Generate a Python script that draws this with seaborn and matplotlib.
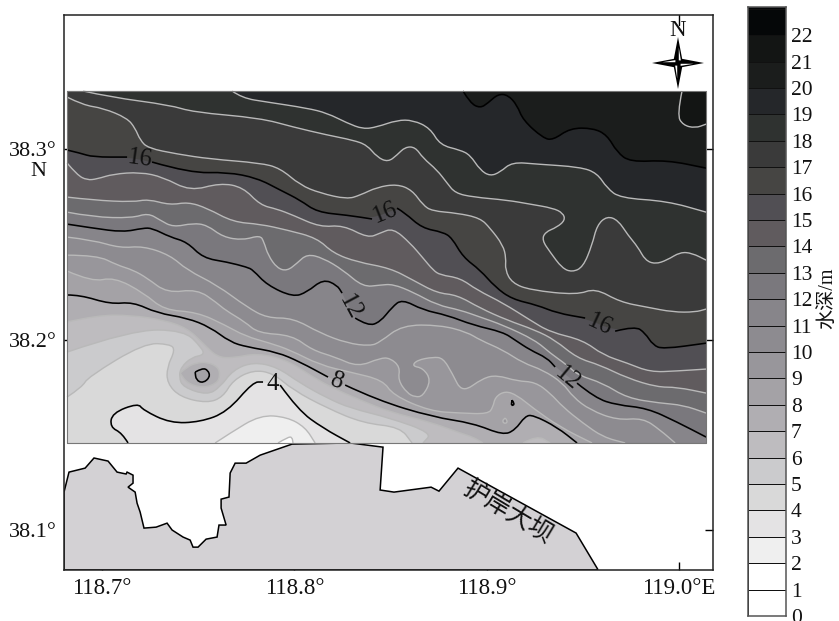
import numpy as np
import pandas as pd
import matplotlib
matplotlib.use('Agg')
import matplotlib.pyplot as plt
from matplotlib.colors import ListedColormap
from matplotlib.path import Path
from matplotlib.patches import PathPatch
import seaborn as sns

# Depth bands, colour of band i is for i..i+1 m
band_depths = list(range(23))
band_colors = ['#ffffff', '#ffffff', '#efefef', '#e4e3e4', '#d9d9d9', '#cbcbcd', '#bebcbf', '#b0aeb2',
               '#a4a2a6', '#98969b', '#8d8b90', '#87858a', '#7a787d', '#6c6b6e', '#605b5e', '#514f54',
               '#464543', '#3a3a3a', '#2f3230', '#25272a', '#1b1d1c', '#131514', '#050708']

map_west, map_east = 118.6818, 119.0141
map_south, map_north = 38.1457, 38.3305

# Isobaths (lon, lat)
lon_21 = [119.0016, 118.999, 119.0021, 119.0084, 119.0141]
lat_21 = [38.3305, 38.3179, 38.3126, 38.3110, 38.3131]

lon_20 = [118.8877, 118.8914, 118.8966, 118.9007, 118.9059, 118.9111, 118.9158, 118.9189, 118.9293, 118.9345,
          118.9434, 118.9553, 118.9626, 118.9678, 118.9746, 118.9938, 119.0141]
lat_20 = [38.3305, 38.3242, 38.3215, 38.3242, 38.3289, 38.3284, 38.3231, 38.3152, 38.3058, 38.3047,
          38.3110, 38.3110, 38.3074, 38.2984, 38.2932, 38.2942, 38.2900]

lon_19 = [118.7676, 118.7728, 118.7858, 118.8066, 118.817, 118.8274, 118.8357, 118.843, 118.8534, 118.8617,
          118.8706, 118.8758, 118.8862, 118.8914, 118.8966, 118.9018, 118.907, 118.9132, 118.9262, 118.9486,
          118.9574, 118.9626, 118.9694, 118.9938, 119.0141]
lat_19 = [38.3305, 38.3268, 38.3247, 38.3215, 38.3189, 38.3137, 38.3105, 38.3116, 38.3152, 38.3152,
          38.3110, 38.3021, 38.2995, 38.2969, 38.2890, 38.2858, 38.2879, 38.2932, 38.2921, 38.2906,
          38.2874, 38.2795, 38.2743, 38.2727, 38.2669]

lon_18 = [118.6901, 118.7042, 118.7354, 118.7473, 118.7822, 118.7993, 118.817, 118.8305, 118.8378, 118.843,
          118.8487, 118.8534, 118.8576, 118.8628, 118.8669, 118.8742, 118.8794, 118.8836, 118.8929, 118.9106,
          118.9226, 118.9345, 118.9397, 118.9408, 118.9366, 118.9304, 118.9288, 118.933, 118.9392, 118.9444,
          118.9501, 118.9548, 118.9574, 118.9626, 118.9683, 118.9735, 118.9787, 118.9824, 118.9876, 118.9938,
          119.0006, 119.0068, 119.0141]
lat_18 = [38.3305, 38.3273, 38.3231, 38.3194, 38.3163, 38.3116, 38.3074, 38.3047, 38.3021, 38.2958,
          38.2932, 38.2969, 38.3011, 38.3011, 38.2953, 38.2890, 38.2822, 38.2769, 38.2748, 38.2732,
          38.2711, 38.2690, 38.2664, 38.2627, 38.2590, 38.2564, 38.2522, 38.2459, 38.2375, 38.2354,
          38.2380, 38.2496, 38.2601, 38.2648, 38.2627, 38.2548, 38.2485, 38.2417, 38.2396, 38.2417,
          38.2459, 38.2454, 38.2417]

lon_17 = [118.6818, 118.6901, 118.7005, 118.713, 118.7172, 118.7198, 118.7239, 118.739, 118.7562, 118.7822,
          118.7926, 118.803, 118.8134, 118.8274, 118.8342, 118.843, 118.8534, 118.8612, 118.8669, 118.8716,
          118.8846, 118.8966, 118.9018, 118.9085, 118.9101, 118.9096, 118.9132, 118.9226, 118.947, 118.9564,
          118.9694, 118.9834, 118.9969, 119.0084, 119.0141]
lat_17 = [38.3273, 38.3231, 38.3215, 38.3163, 38.3110, 38.3047, 38.3005, 38.2974, 38.2948, 38.2927,
          38.2900, 38.2811, 38.2769, 38.2737, 38.2758, 38.2800, 38.2816, 38.2785, 38.2706, 38.2675,
          38.2664, 38.2638, 38.2585, 38.2496, 38.2428, 38.2365, 38.2297, 38.2260, 38.2234, 38.2270,
          38.2197, 38.2170, 38.2144, 38.2144, 38.2160]

lon_16 = [118.6818, 118.6886, 118.6953, 118.713, 118.726, 118.7458, 118.765, 118.7806, 118.7926, 118.803,
          118.8118, 118.8274, 118.8404, 118.8534, 118.8576, 118.8664, 118.8773, 118.882, 118.8877, 118.8966,
          118.9044, 118.9132, 118.9262, 118.9366, 118.9512, 118.9668, 118.9772, 118.9824, 118.9865, 118.9917,
          119.0141]
lat_16 = [38.2995, 38.2979, 38.2958, 38.2958, 38.2932, 38.2874, 38.2879, 38.2848, 38.2785, 38.2732,
          38.2669, 38.2653, 38.2633, 38.2690, 38.2664, 38.2585, 38.2564, 38.2533, 38.2433, 38.2365,
          38.2276, 38.2212, 38.2181, 38.2139, 38.2113, 38.2044, 38.2071, 38.2034, 38.1971, 38.1950,
          38.1981]

lon_15 = [118.6818, 118.687, 118.6922, 118.6974, 118.7057, 118.7198, 118.7317, 118.7458, 118.7614, 118.7733,
          118.7822, 118.791, 118.7993, 118.8134, 118.8253, 118.8383, 118.8446, 118.8513, 118.8602, 118.8669,
          118.8721, 118.8758, 118.8862, 118.895, 118.9085, 118.9226, 118.933, 118.9501, 118.9605, 118.973,
          118.985, 118.999, 119.0141]
lat_15 = [38.2927, 38.2864, 38.2837, 38.2843, 38.2869, 38.2879, 38.2853, 38.2779, 38.2822, 38.2800,
          38.2706, 38.2685, 38.2653, 38.2590, 38.2601, 38.2533, 38.2559, 38.2585, 38.2507, 38.2428,
          38.2365, 38.2339, 38.2323, 38.2260, 38.2192, 38.2102, 38.2039, 38.1997, 38.1919, 38.1877,
          38.1829, 38.1835, 38.1845]

lon_14 = [118.6818, 118.6953, 118.7161, 118.7239, 118.7354, 118.7447, 118.7546, 118.7681, 118.7822, 118.7962,
          118.8118, 118.8201, 118.8326, 118.8498, 118.8617, 118.8742, 118.8846, 118.8966, 118.9106, 118.9252,
          118.9356, 118.947, 118.959, 118.973, 118.9886, 118.999, 119.0141]
lat_14 = [38.2748, 38.2732, 38.2722, 38.2737, 38.2706, 38.2722, 38.2690, 38.2617, 38.2606, 38.2575,
          38.2533, 38.2454, 38.2407, 38.2375, 38.2312, 38.2244, 38.2234, 38.2165, 38.2102, 38.2050,
          38.1997, 38.1903, 38.1866, 38.1798, 38.1750, 38.1750, 38.1719]

lon_13 = [118.6818, 118.6953, 118.7156, 118.7239, 118.7302, 118.7369, 118.7473, 118.7546, 118.7629, 118.7733,
          118.7822, 118.7842, 118.7863, 118.791, 118.7962, 118.8014, 118.8066, 118.8149, 118.8253, 118.8357,
          118.8446, 118.8513, 118.8617, 118.8742, 118.8862, 118.8966, 118.9085, 118.9252, 118.933, 118.9418,
          118.9475, 118.9605, 118.973, 118.9902, 119.0021, 119.0141]
lat_13 = [38.2669, 38.2643, 38.2638, 38.2664, 38.2627, 38.2590, 38.2611, 38.2601, 38.2538, 38.2522,
          38.2548, 38.2512, 38.2443, 38.2375, 38.2360, 38.2401, 38.2449, 38.2428, 38.2365, 38.2276,
          38.2286, 38.2291, 38.2249, 38.2181, 38.2155, 38.2118, 38.2076, 38.1997, 38.1929, 38.1866,
          38.1813, 38.1771, 38.1693, 38.1666, 38.1656, 38.1614]

lon_12 = [118.6818, 118.6953, 118.7109, 118.7213, 118.726, 118.7354, 118.7442, 118.7525, 118.765, 118.7754,
          118.7785, 118.7858, 118.7993, 118.8066, 118.8149, 118.8222, 118.8248, 118.8316, 118.8383, 118.8446,
          118.8508, 118.856, 118.8669, 118.8794, 118.8929, 118.9085, 118.9148, 118.9226, 118.9314, 118.9356,
          118.947, 118.9564, 118.9678, 118.9834, 118.999, 119.0141]
lat_12 = [38.2606, 38.2585, 38.2564, 38.2585, 38.2585, 38.2538, 38.2512, 38.2428, 38.2407, 38.2380,
          38.2365, 38.2286, 38.2223, 38.2249, 38.2317, 38.2286, 38.2244, 38.2113, 38.2071, 38.2092,
          38.2170, 38.2212, 38.2155, 38.2128, 38.2076, 38.2039, 38.1997, 38.1945, 38.1903, 38.1856,
          38.1771, 38.1693, 38.1656, 38.1640, 38.1567, 38.1488]

lon_11 = [118.6818, 118.6953, 118.7094, 118.7213, 118.7354, 118.7442, 118.7598, 118.7754, 118.7858, 118.7993,
          118.8134, 118.8274, 118.8394, 118.8446, 118.856, 118.8758, 118.8898, 118.8966, 118.9085, 118.9189,
          118.9293, 118.9397, 118.9449, 118.9538, 118.9678, 118.9813, 118.9902, 118.998]
lat_11 = [38.2538, 38.2522, 38.2480, 38.2491, 38.2443, 38.2365, 38.2286, 38.2170, 38.2113, 38.2113,
          38.2034, 38.1981, 38.1966, 38.1987, 38.2076, 38.2076, 38.2039, 38.1997, 38.1945, 38.1877,
          38.1840, 38.1771, 38.1698, 38.1630, 38.1577, 38.1588, 38.1525, 38.1457]

lon_10 = [118.6818, 118.6974, 118.7078, 118.7161, 118.7234, 118.7338, 118.7494, 118.7598, 118.764, 118.7744,
          118.7811, 118.7988, 118.8092, 118.8212, 118.8331, 118.8446, 118.8498, 118.855, 118.8539, 118.8586,
          118.8628, 118.8669, 118.8711, 118.8669, 118.8612, 118.8638, 118.8721, 118.8773, 118.882, 118.8872,
          118.8981, 118.9054, 118.9158, 118.9252, 118.933, 118.9397, 118.9501, 118.9605, 118.972]
lat_10 = [38.2443, 38.2443, 38.2391, 38.2365, 38.2323, 38.2244, 38.2265, 38.2192, 38.2155, 38.2092,
          38.2034, 38.2023, 38.1945, 38.1908, 38.1856, 38.1903, 38.1903, 38.1856, 38.1787, 38.1719,
          38.1698, 38.1703, 38.1787, 38.1850, 38.1861, 38.1892, 38.1908, 38.1903, 38.1824, 38.1719,
          38.1798, 38.1813, 38.1782, 38.1777, 38.1719, 38.1645, 38.1561, 38.1488, 38.1457]

lon_9 = [118.6818, 118.6948, 118.7062, 118.7218, 118.7322, 118.7494, 118.764, 118.7744, 118.7874, 118.7978,
         118.8134, 118.829, 118.8461, 118.8513, 118.8706, 118.8862, 118.9007, 118.9033, 118.9044, 118.9096,
         118.9158, 118.9241, 118.9382, 118.9548]
lat_9 = [38.2360, 38.2302, 38.2328, 38.2244, 38.2155, 38.2144, 38.2076, 38.2018, 38.1981, 38.1945,
         38.1866, 38.1829, 38.1787, 38.1708, 38.1624, 38.1614, 38.1609, 38.1645, 38.1698, 38.1730,
         38.1708, 38.1640, 38.1540, 38.1457]

lon_8 = [118.6818, 118.6886, 118.7042, 118.7161, 118.7286, 118.7442, 118.7562, 118.7666, 118.7754, 118.791,
         118.803, 118.8175, 118.8264, 118.843, 118.8721, 118.8929, 118.9085, 118.9148, 118.92, 118.9241,
         118.9366, 118.947]
lat_8 = [38.2234, 38.2234, 38.2186, 38.2197, 38.2139, 38.2113, 38.2065, 38.1987, 38.1961, 38.1934,
         38.1882, 38.1803, 38.1761, 38.1682, 38.1593, 38.1561, 38.1498, 38.1525, 38.1598, 38.1604,
         38.1540, 38.1457]

lon_7 = [118.6818, 118.6974, 118.7151, 118.7322, 118.7442, 118.7525, 118.7598, 118.7681, 118.7806, 118.7962,
         118.8097, 118.8201, 118.8342, 118.8498, 118.8706, 118.8862, 118.8929, 118.8981]
lat_7 = [38.2092, 38.2128, 38.2128, 38.2102, 38.2060, 38.1981, 38.1908, 38.1903, 38.1929, 38.1892,
         38.1803, 38.1745, 38.1682, 38.1619, 38.1567, 38.1509, 38.1488, 38.1457]

lon_6 = [118.6818, 118.7151, 118.7426, 118.752, 118.753, 118.7468, 118.7411, 118.74, 118.7421, 118.7546,
         118.7614, 118.7681, 118.7785, 118.791, 118.803, 118.817, 118.829, 118.8498, 118.8716, 118.8669]
lat_6 = [38.1934, 38.2050, 38.2050, 38.1955, 38.1919, 38.1908, 38.1856, 38.1803, 38.1750, 38.1708,
         38.1750, 38.1840, 38.1882, 38.1856, 38.1771, 38.1693, 38.1640, 38.1588, 38.1509, 38.1457]

lon_5 = [118.6818, 118.6896, 118.6927, 118.7218, 118.7354, 118.738, 118.7338, 118.7338, 118.7406, 118.7546,
         118.7629, 118.7681, 118.7785, 118.7889, 118.7993, 118.817, 118.8357, 118.855, 118.8612]
lat_5 = [38.1698, 38.1750, 38.1803, 38.1981, 38.1976, 38.1945, 38.1856, 38.1771, 38.1698, 38.1666,
         38.1698, 38.1787, 38.1840, 38.1824, 38.1735, 38.1640, 38.1561, 38.1540, 38.1457]

lon_4 = [118.7135, 118.7104, 118.7042, 118.7052, 118.7187, 118.7213, 118.7354, 118.751, 118.765, 118.7785,
         118.7837, 118.7926, 118.8019, 118.8149, 118.829]
lat_4 = [38.1457, 38.1509, 38.1540, 38.1614, 38.1666, 38.1630, 38.1561, 38.1567, 38.1619, 38.1777,
         38.1777, 38.1761, 38.1630, 38.1535, 38.1457]

lon_3 = [118.7588, 118.7666, 118.7822, 118.7962, 118.8056, 118.8108]
lat_3 = [38.1457, 38.1509, 38.1604, 38.1593, 38.1540, 38.1457]

lon_2 = [118.7915, 118.7967, 118.7988, 118.7993]
lat_2 = [38.1457, 38.1488, 38.1488, 38.1457]

# closed patches
patch7_lon = [118.9189, 118.9262, 118.933]
patch7_lat = [38.1457, 38.1498, 38.1457]
ring7_lon = [118.7406, 118.7442, 118.7489, 118.7546, 118.7603, 118.7614, 118.7598, 118.7525, 118.7442, 118.7406]
ring7_lat = [38.1824, 38.1856, 38.1877, 38.1882, 38.1856, 38.1813, 38.1771, 38.1745, 38.1771, 38.1824]
ring8_lon = [118.7484, 118.752, 118.7551, 118.7562, 118.7525, 118.7489, 118.7484]
ring8_lat = [38.1829, 38.1850, 38.1840, 38.1803, 38.1771, 38.1787, 38.1829]
spot8_lon = [118.9132, 118.9148, 118.9127, 118.9132]
spot8_lat = [38.1682, 38.1661, 38.1651, 38.1682]
spot9_lon = [118.9096, 118.9111, 118.9096, 118.908, 118.9096]
spot9_lat = [38.1588, 38.1572, 38.1556, 38.1572, 38.1588]

# Coast and dam
coast_lon = [118.6802, 118.6828, 118.6912, 118.6958, 118.7031, 118.7078, 118.7125, 118.713, 118.7161, 118.7161,
             118.7135, 118.7172, 118.7182, 118.7198, 118.7218, 118.7281, 118.7338, 118.7364, 118.7421, 118.7458,
             118.7473, 118.7499, 118.7541, 118.7598, 118.7608, 118.7645, 118.7619, 118.7619, 118.766, 118.7666,
             118.7692, 118.7749, 118.7822, 118.7988, 118.829, 118.8461, 118.8446, 118.8518, 118.8711, 118.8752,
             118.8851, 118.9465, 118.9577]
coast_lat = [38.1199, 38.1304, 38.1325, 38.1378, 38.1362, 38.1304, 38.1294, 38.1304, 38.1288, 38.1246,
             38.1225, 38.1199, 38.1141, 38.1094, 38.1010, 38.1015, 38.1036, 38.1000, 38.0963, 38.0947,
             38.0910, 38.0910, 38.0952, 38.0963, 38.1026, 38.1026, 38.1115, 38.1162, 38.1173, 38.1299,
             38.1351, 38.1351, 38.1393, 38.1451, 38.1457, 38.1435, 38.1210, 38.1199, 38.1225, 38.1204,
             38.1325, 38.0984, 38.0795]

x_ticks = [118.7, 118.8, 118.9, 119.0]
x_labels = ['118.7°', '118.8°', '118.9°', '119.0°E']
y_ticks = [38.1, 38.2, 38.3]
y_labels = ['38.1°', '38.2°', '38.3°']

# depth label, lon, lat, rotation
line_labels = [(16, 118.7198, 38.2948, -8), (16, 118.8472, 38.2664, 22), (16, 118.959, 38.2076, -25),
               (12, 118.829, 38.2170, -62), (12, 118.9418, 38.1798, -40), (8, 118.8222, 38.1782, -20),
               (4, 118.7889, 38.1766, 0)]

isobaths = {21: (lon_21, lat_21), 20: (lon_20, lat_20), 19: (lon_19, lat_19), 18: (lon_18, lat_18),
            17: (lon_17, lat_17), 16: (lon_16, lat_16), 15: (lon_15, lat_15), 14: (lon_14, lat_14),
            13: (lon_13, lat_13), 12: (lon_12, lat_12), 11: (lon_11, lat_11), 10: (lon_10, lat_10),
            9: (lon_9, lat_9), 8: (lon_8, lat_8), 7: (lon_7, lat_7), 6: (lon_6, lat_6),
            5: (lon_5, lat_5), 4: (lon_4, lat_4), 3: (lon_3, lat_3), 2: (lon_2, lat_2)}

sns.set_theme(style='ticks')
plt.rcParams['font.family'] = ['Liberation Serif', 'Noto Sans CJK SC']
plt.rcParams['axes.unicode_minus'] = False

W, H = 839, 621
fig = plt.figure(figsize=(W / 100, H / 100), dpi=100)
ax = fig.add_axes([64 / W, 1 - 570 / H, 649 / W, 555 / H])

GRAY = '#b9b9b9'


def curve(lon, lat):
    # quadratic pieces through the read points so the lines render round
    pts = np.column_stack([lon, lat])
    verts = [pts[0]]
    codes = [Path.MOVETO]
    for i in range(1, len(pts) - 1):
        verts += [pts[i], (pts[i] + pts[i + 1]) / 2]
        codes += [Path.CURVE3, Path.CURVE3]
    verts.append(pts[-1])
    codes.append(Path.LINETO)
    return verts, codes


def draw_band(lon, lat, color, corners=()):
    verts, codes = curve(lon, lat)
    for c in corners:
        verts.append(np.array(c))
        codes.append(Path.LINETO)
    verts.append(verts[0])
    codes.append(Path.CLOSEPOLY)
    ax.add_patch(PathPatch(Path(verts, codes), facecolor=color, edgecolor='none', linewidth=0, zorder=2))


def draw_line(lon, lat, depth):
    black = depth % 4 == 0
    color = 'black' if black else GRAY
    lon = np.array(lon)
    lat = np.array(lat)
    # break the black lines where their depth label sits
    breaks = []
    if black:
        mid_x = (lon[1:] + lon[:-1]) / 2
        mid_y = (lat[1:] + lat[:-1]) / 2
        for d, lx, ly, _ in line_labels:
            if d == depth:
                dist = np.hypot(mid_x - lx, mid_y - ly)
                if dist.min() < 0.012:
                    breaks.append(int(dist.argmin()) + 1)
    for part_x, part_y in zip(np.split(lon, breaks), np.split(lat, breaks)):
        verts, codes = curve(part_x, part_y)
        ax.add_patch(PathPatch(Path(verts, codes), fill=False, edgecolor=color,
                               linewidth=1.15 if black else 1.0, zorder=4))


# coast sits under the map
ax.fill(coast_lon + [coast_lon[-1], coast_lon[0]], coast_lat + [38.0790, 38.0790],
        facecolor='#d3d1d4', edgecolor='black', linewidth=1.1, zorder=1)

# bands painted from deep to shallow
ax.fill([map_west, map_east, map_east, map_west], [map_south, map_south, map_north, map_north],
        color=band_colors[21], linewidth=0, zorder=2)
for depth in sorted(isobaths, reverse=True):
    lon, lat = isobaths[depth]
    corners = []
    if lon[-1] == map_east:
        corners.append((map_east, map_south))
    if lat[0] != map_south:
        corners.append((map_west, map_south))
    if lat[0] == map_north:
        corners.append((map_west, map_north))
    draw_band(lon, lat, band_colors[depth - 1], corners)
    if depth == 7:
        draw_band(patch7_lon, patch7_lat, band_colors[6])

draw_band(ring7_lon, ring7_lat, band_colors[7])
draw_band(ring8_lon, ring8_lat, band_colors[8])
draw_band(spot9_lon, spot9_lat, band_colors[9])

for depth in sorted(isobaths, reverse=True):
    draw_line(isobaths[depth][0], isobaths[depth][1], depth)
draw_line(patch7_lon, patch7_lat, 7)
draw_line(ring7_lon, ring7_lat, 7)
draw_line(ring8_lon, ring8_lat, 8)
draw_line(spot8_lon, spot8_lat, 8)
draw_line(spot9_lon, spot9_lat, 9)

# thin grey frame of the map
ax.plot([map_west, map_east, map_east, map_west, map_west], [map_south, map_south, map_north, map_north, map_south],
        color='#777777', linewidth=0.8, zorder=5)

for d, lx, ly, rot in line_labels:
    ax.text(lx, ly, str(d), fontsize=18, rotation=rot, ha='center', va='center', color='#111111', zorder=6)

ax.text(118.9107, 38.1094, '护岸大坝', fontsize=18, rotation=-31, ha='center', va='center',
        color='#111111', zorder=6, rotation_mode='anchor')

ax.set_xlim(118.6802, 119.0177)
ax.set_ylim(38.0790, 38.3704)
ax.set_xticks(x_ticks)
ax.set_xticklabels(x_labels)
ax.set_yticks(y_ticks)
ax.set_yticklabels(y_labels)
ax.set_xlabel('')
ax.set_ylabel('')
ax.tick_params(axis='x', direction='in', length=6, width=1, labelsize=16.5, pad=6, color='black', labelcolor='#111111')
ax.tick_params(axis='y', direction='in', length=6, width=1, labelsize=16, pad=5,
               right=True, color='black', labelcolor='#111111')
for s in ax.spines.values():
    s.set_linewidth(1.1)
    s.set_color('#222222')
    s.set_visible(True)
    s.set_zorder(7)
ax.text(38 / W, 1 - 172 / H, 'N', transform=fig.transFigure, fontsize=16, ha='center', va='center', color='#111111')

# compass rose
rose = fig.add_axes([652 / W, 1 - 89 / H, 52 / W, 52 / H])
rose.set_xlim(-1, 1)
rose.set_ylim(-1, 1)
rose.axis('off')
rose.patch.set_alpha(0)
w = 0.16
rose.fill([0, w, 1, w, 0, -w, -1, -w], [1, w, 0, -w, -1, -w, 0, w], color='black', linewidth=0)
rose.fill([0.03, 0.11, 0.03], [0.6, 0.1, 0.1], color='white', linewidth=0)
rose.fill([-0.03, -0.11, -0.03], [-0.6, -0.1, -0.1], color='white', linewidth=0)
rose.fill([0.6, 0.1, 0.1], [-0.03, -0.11, -0.03], color='white', linewidth=0)
rose.fill([-0.6, -0.1, -0.1], [0.03, 0.11, 0.03], color='white', linewidth=0)
fig.text(678 / W, 1 - 30 / H, 'N', fontsize=16.5, ha='center', va='center', color='#111111')
ax.plot([119.0, 119.0], [38.3704, 38.3652], color='black', linewidth=1)

# depth scale
cax = fig.add_axes([748 / W, 1 - 616 / H, 38 / W, 609 / H])
scale = pd.DataFrame({'depth': band_depths[::-1]})
sns.heatmap(scale[['depth']], ax=cax, cmap=ListedColormap(band_colors), vmin=-0.5, vmax=22.5, cbar=False,
            linewidths=0.55, linecolor='#111111', xticklabels=False, yticklabels=False)
cax.set_facecolor(band_colors[22])
cax.set_ylim(23, -0.07)
cax.set_xlabel('')
cax.set_ylabel('')
cax.yaxis.tick_right()
cax.set_yticks([23 - d for d in band_depths])
cax.set_yticklabels([str(d) for d in band_depths], rotation=0)
cax.tick_params(axis='y', length=0, labelsize=15.5, pad=3.5, labelcolor='#111111')
for s in cax.spines.values():
    s.set_visible(True)
    s.set_color('#555555')
    s.set_linewidth(1.1)
fig.text(828 / W, 1 - 298 / H, '水深/m', rotation=90, fontsize=14.5, ha='center', va='center', color='#111111')

fig.savefig('out.png', dpi=100)
